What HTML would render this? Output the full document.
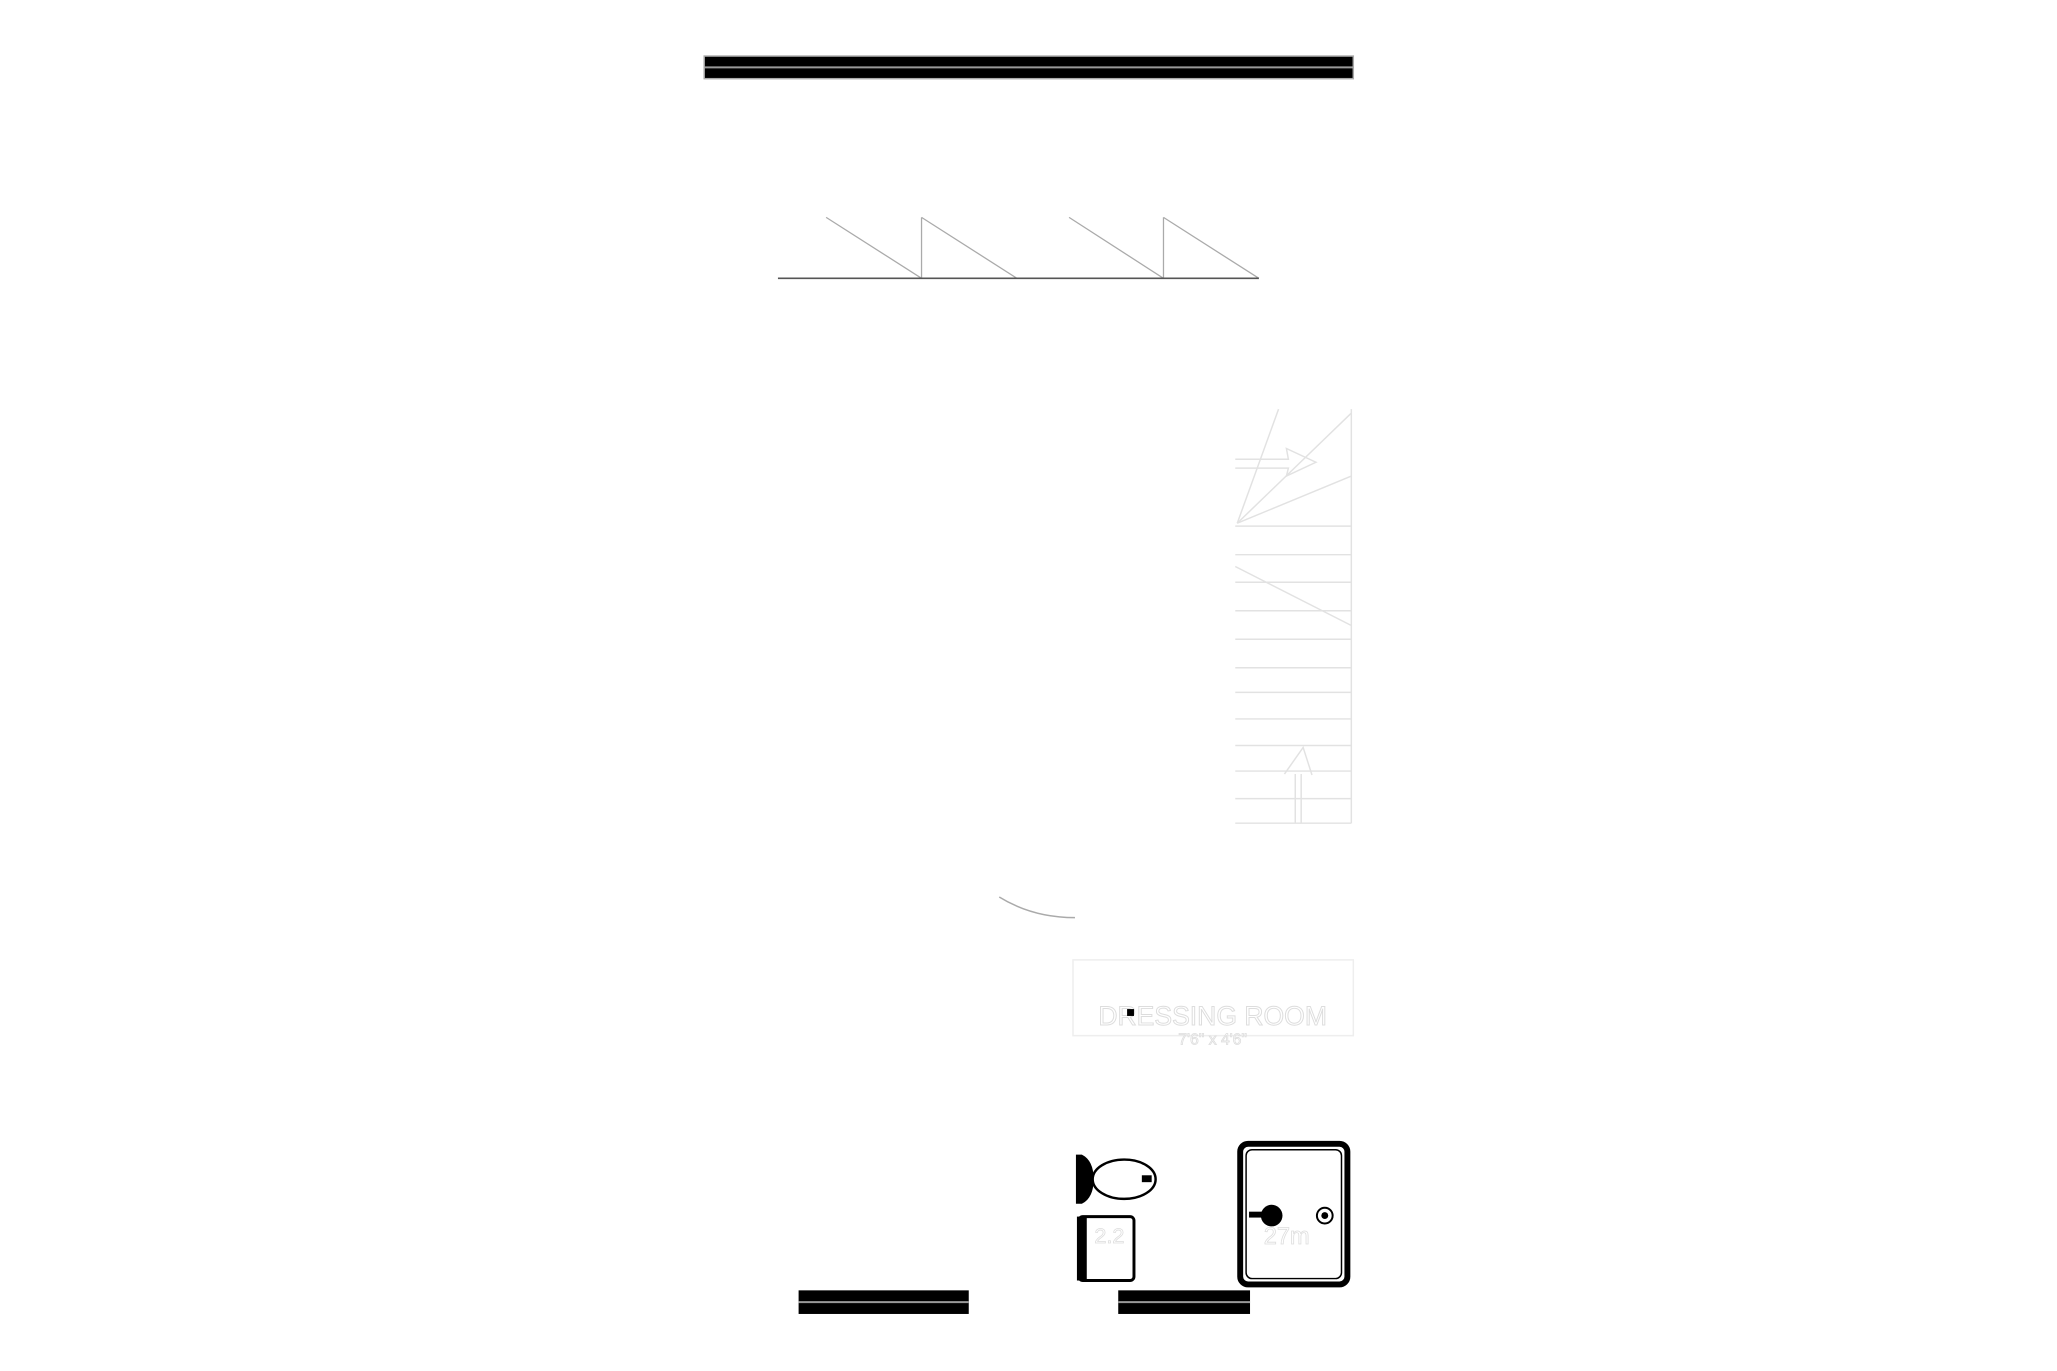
<!DOCTYPE html>
<html><head><meta charset="utf-8"><style>html,body{margin:0;padding:0;background:#fff}svg{display:block}</style></head>
<body>
<svg width="2057" height="1371" viewBox="0 0 2057 1371" xmlns="http://www.w3.org/2000/svg" font-family="Liberation Sans, sans-serif">
<rect width="2057" height="1371" fill="#fff"/>
<g transform="scale(0.9835)">
<rect x="716" y="57" width="660" height="23" fill="#000"/>
<line x1="716" y1="68.5" x2="1376" y2="68.5" stroke="#999" stroke-width="2"/>
<rect x="716" y="57" width="660" height="23" fill="none" stroke="#aaa" stroke-width="1.5"/>
<g stroke="#aaa" stroke-width="1.3" fill="none">
<line x1="840" y1="221" x2="937" y2="283"/>
<line x1="937" y1="221" x2="937" y2="283"/>
<line x1="937" y1="221" x2="1034" y2="283"/>
<line x1="1087" y1="221" x2="1183" y2="283"/>
<line x1="1183" y1="221" x2="1183" y2="283"/>
<line x1="1183" y1="221" x2="1280" y2="283"/>
</g>
<line x1="791" y1="283" x2="1280" y2="283" stroke="#555" stroke-width="1.6"/>
<g stroke="#e2e2e2" stroke-width="1.5" fill="none">
<line x1="1374" y1="416" x2="1374" y2="837"/>
<line x1="1256" y1="535" x2="1374" y2="535"/>
<line x1="1256" y1="564" x2="1374" y2="564"/>
<line x1="1256" y1="592" x2="1374" y2="592"/>
<line x1="1256" y1="621" x2="1374" y2="621"/>
<line x1="1256" y1="650" x2="1374" y2="650"/>
<line x1="1256" y1="679" x2="1374" y2="679"/>
<line x1="1256" y1="704" x2="1374" y2="704"/>
<line x1="1256" y1="731" x2="1374" y2="731"/>
<line x1="1256" y1="758" x2="1374" y2="758"/>
<line x1="1256" y1="784" x2="1374" y2="784"/>
<line x1="1256" y1="812" x2="1374" y2="812"/>
<line x1="1256" y1="837" x2="1374" y2="837"/>
<line x1="1258" y1="532" x2="1374" y2="420"/>
<line x1="1258" y1="532" x2="1300" y2="416"/>
<line x1="1258" y1="532" x2="1374" y2="484"/>
<path d="M1256 467 H1310 L1308 456 L1338 470 L1308 484 L1310 476 H1256"/>
<line x1="1256" y1="576" x2="1374" y2="636"/>
<path d="M1306 787 L1325 760 L1334 788 M1317 787 V837 M1323 787 V837"/>
</g>
<path d="M1016 912 Q1050 933 1093 933" fill="none" stroke="#aaa" stroke-width="1.5"/>
<rect x="1091" y="976" width="285" height="77" fill="none" stroke="#eee" stroke-width="1.5"/>
<text x="1233" y="1042" font-size="27" text-anchor="middle" fill="#fff" stroke="#ddd" stroke-width="1">DRESSING ROOM</text>
<text x="1233" y="1062" font-size="16" text-anchor="middle" fill="#fff" stroke="#ddd" stroke-width="0.8">7'6" x 4'6"</text>
<rect x="1146" y="1026" width="7" height="7" fill="#000"/>
<path d="M1094 1174 H1100 Q1112 1180 1112 1199 Q1112 1218 1100 1224 H1094 Z" fill="#000"/>
<ellipse cx="1143" cy="1199" rx="32" ry="20" fill="#fff" stroke="#000" stroke-width="2.5"/>
<rect x="1161" y="1195" width="10" height="7" fill="#000"/>
<rect x="1097" y="1237" width="56" height="65" rx="4" fill="#fff" stroke="#000" stroke-width="3"/>
<rect x="1095" y="1237" width="10" height="65" fill="#000"/>
<text x="1128" y="1264" font-size="22" fill="#fff" stroke="#ddd" stroke-width="0.8" text-anchor="middle">2.2</text>
<rect x="1261" y="1163" width="109" height="143" rx="8" fill="none" stroke="#000" stroke-width="6"/>
<rect x="1267" y="1169" width="97" height="131" rx="6" fill="none" stroke="#000" stroke-width="1.5"/>
<circle cx="1293" cy="1236" r="11" fill="#000"/>
<rect x="1270" y="1232" width="14" height="6" fill="#000"/>
<circle cx="1347" cy="1236" r="8" fill="none" stroke="#000" stroke-width="2"/>
<circle cx="1347" cy="1236" r="3.5" fill="#000"/>
<text x="1285" y="1265" font-size="24" fill="#fff" stroke="#ddd" stroke-width="0.8">27m</text>
<rect x="812" y="1312" width="173" height="24" fill="#000"/>
<line x1="812" y1="1324" x2="985" y2="1324" stroke="#999" stroke-width="2"/>
<rect x="1137" y="1312" width="134" height="24" fill="#000"/>
<line x1="1137" y1="1324" x2="1271" y2="1324" stroke="#999" stroke-width="2"/>
</g>
</svg>
</body></html>
